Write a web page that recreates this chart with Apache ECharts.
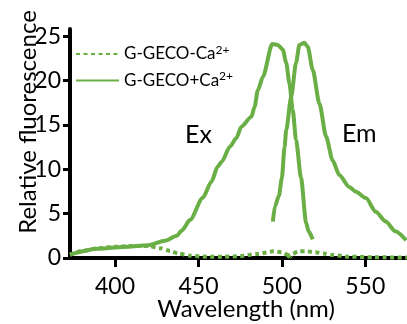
<!DOCTYPE html>
<html>
<head>
<meta charset="utf-8">
<script src="https://cdn.jsdelivr.net/npm/echarts@6/dist/echarts.min.js"></script>
<style>
  html, body { margin: 0; padding: 0; background: #fff; }
  #chart { width: 407px; height: 324px; }
</style>
</head>
<body>
<div id="chart"></div>
<script>
// excitation / emission spectra
var exCaNm = [373, 390, 405, 420, 430, 437, 440, 445, 452.6, 457.8, 461.5, 464, 468.7, 472.7, 475.7, 481.7, 483.6, 485.6, 488.6, 494.2, 497.6, 500.5, 502.6, 504.5, 506.5, 508.5, 511.5, 514.5, 516, 518.5]
var exCa = [0.4, 1.05, 1.25, 1.45, 1.95, 2.5, 3.1, 4.3, 6.8, 8.6, 10.3, 10.85, 12.5, 13.5, 14.8, 15.9, 17.0, 18.9, 20.4, 24.1, 24.0, 23.5, 22.0, 19.7, 16.7, 13.3, 9.0, 4.0, 3.0, 2.1]

var emCaNm = [494.6, 495.8, 498.2, 500, 501.6, 502.6, 505.6, 508.5, 510.5, 513.5, 515.5, 518.5, 522.5, 526.5, 530.4, 534.4, 540.4, 544.4, 550.4, 556.3, 562.3, 568, 574.5]
var emCa = [4.1, 5.8, 7.0, 9.0, 12.5, 14.4, 18.2, 22.0, 24.0, 24.25, 23.8, 21.2, 17.4, 13.7, 11.0, 9.35, 8.0, 7.45, 6.75, 5.2, 4.1, 3.0, 2.0]

var exNoCaNm = [373, 380, 390, 400, 410, 420, 427, 433, 438, 445, 455, 465, 475, 485, 495, 500, 503, 506]
var exNoCa = [0.35, 0.8, 1.1, 1.27, 1.35, 1.35, 1.1, 0.8, 0.5, 0.25, 0.15, 0.15, 0.2, 0.45, 0.75, 0.65, 0.4, 0.05]

var emNoCaNm = [503, 506, 510, 515, 520, 525, 530, 540, 555, 575]
var emNoCa = [0.1, 0.45, 0.75, 0.75, 0.65, 0.5, 0.35, 0.15, 0.08, 0.05]

var xTicks = [400, 450, 500, 550]
var yTicks = [0, 5, 10, 15, 20, 25]
var seriesNames = ['G-GECO-Ca', 'G-GECO+Ca']

var green = '#6aaf45'
var font = 'Lato'

function pairs (xs, ys) {
  return xs.map(function (x, i) { return [x, ys[i]] })
}

function line (name, xs, ys, dotted) {
  return {
    name: name,
    type: 'line',
    data: pairs(xs, ys),
    showSymbol: false,
    symbol: 'none',
    smooth: 0.25,
    smoothMonotone: 'x',
    lineStyle: { color: green, width: 4, type: dotted ? [4, 3.5] : 'solid' },
    itemStyle: { color: green }
  }
}

var chart = echarts.init(document.getElementById('chart'))
chart.setOption({
  animation: false,
  textStyle: { fontFamily: font },
  grid: { left: 70, right: 0, top: 29, bottom: 66, containLabel: false, outerBoundsMode: 'none' },
  legend: {
    data: seriesNames,
    orient: 'vertical',
    left: 75,
    top: 44,
    padding: 0,
    itemWidth: 43,
    itemHeight: 18,
    itemGap: 8,
    itemStyle: { opacity: 0 },
    textStyle: {
      fontFamily: font,
      fontSize: 17,
      color: '#000',
      rich: {
        a: { fontFamily: font, fontSize: 17, color: '#000' },
        s: { fontFamily: font, fontSize: 12, color: '#000', padding: [0, 0, 8, 0] }
      }
    },
    formatter: function (n) {
      return '{a|' + n + '}{s|2+}'
    }
  },
  xAxis: {
    type: 'value',
    min: 373,
    max: 575,
    name: 'Wavelength (nm)',
    nameLocation: 'middle',
    nameGap: 39,
    nameMoveOverlap: false,
    nameTextStyle: { fontFamily: font, fontSize: 24, color: '#000', padding: [0, 0, 0, 15] },
    axisLine: { onZero: false, lineStyle: { color: '#000', width: 4 } },
    axisTick: { customValues: xTicks, length: 9, lineStyle: { color: '#000', width: 3 } },
    axisLabel: { customValues: xTicks, fontFamily: font, fontSize: 23, color: '#000', margin: 17 },
    splitLine: { show: false }
  },
  yAxis: {
    type: 'value',
    min: 0,
    max: 25.8,
    axisLine: { show: true, lineStyle: { color: '#000', width: 4 } },
    axisTick: { show: true, customValues: yTicks, length: 7, lineStyle: { color: '#000', width: 3 } },
    axisLabel: { customValues: yTicks, fontFamily: font, fontSize: 23, color: '#000', margin: 9 },
    splitLine: { show: false }
  },
  graphic: [
    {
      type: 'text', x: 28, y: 122, rotation: Math.PI / 2,
      style: { text: 'Relative fluorescence', font: '24px Lato', fill: '#000', align: 'center', verticalAlign: 'middle' }
    },
    { type: 'text', left: 185, top: 122, style: { text: 'Ex', font: '25px Lato', fill: '#000' } },
    { type: 'text', left: 342, top: 121, style: { text: 'Em', font: '25px Lato', fill: '#000' } }
  ],
  series: [
    line(seriesNames[0], exNoCaNm, exNoCa, true),
    line(seriesNames[0], emNoCaNm, emNoCa, true),
    line(seriesNames[1], exCaNm, exCa, false),
    line(seriesNames[1], emCaNm, emCa, false)
  ]
})
</script>
</body>
</html>
